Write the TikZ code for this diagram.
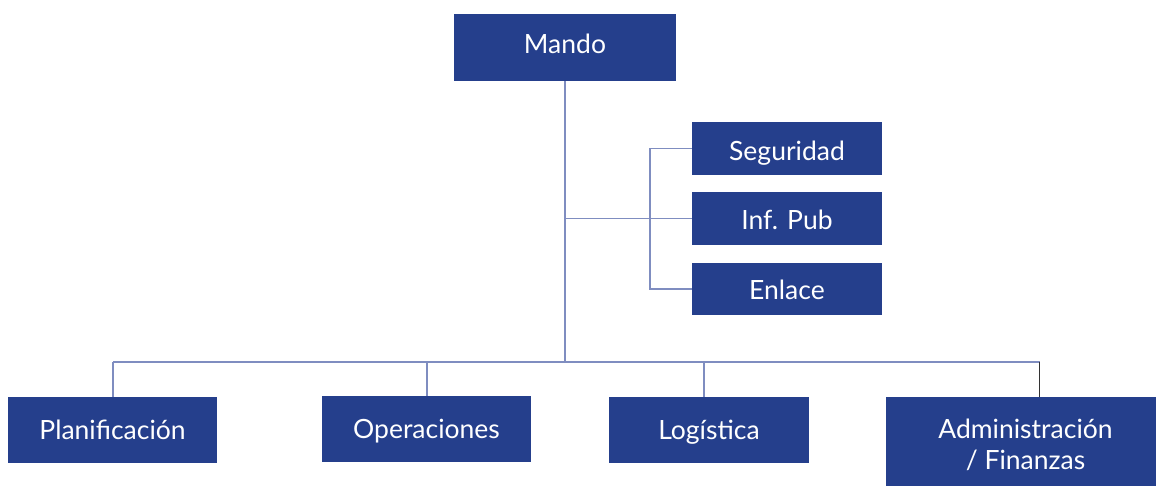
\documentclass[tikz,border=0pt]{standalone}
\usepackage{fontspec}
\setmainfont{Lato}
\definecolor{boxblue}{HTML}{253F8C}
\definecolor{linkblue}{HTML}{7F8DC0}
\definecolor{darkline}{HTML}{333333}
\begin{document}
\begin{tikzpicture}[x=1pt,y=-1pt,
  orgbox/.style={fill=boxblue, draw=none, text=white, inner sep=0pt,
    font=\fontsize{26.5}{31}\selectfont, align=center,
    text height=19pt, text depth=0pt},
  link/.style={draw=linkblue, line width=1.3pt}]
\useasboundingbox (0,0) rectangle (1156,485);
\node[orgbox, minimum width=222pt, minimum height=67pt, text depth=8pt] (mando) at (565,47.5) {Mando};
\node[orgbox, minimum width=190pt, minimum height=53pt, text height=23pt] (seg) at (787,148.5) {Seguridad};
\node[orgbox, minimum width=190pt, minimum height=53pt, text height=22pt] (inf) at (787,218.5) {Inf. Pub};
\node[orgbox, minimum width=190pt, minimum height=52pt, text height=21pt] (enl) at (787,289) {Enlace};
\node[orgbox, minimum width=209pt, minimum height=65.5pt] (plan) at (112.5,429.75) {Planificación};
\node[orgbox, minimum width=209pt, minimum height=66pt] (oper) at (426.5,429) {Operaciones};
\node[orgbox, minimum width=200pt, minimum height=65.5pt] (log) at (709,429.75) {Logística};
\node[orgbox, minimum width=279pt, minimum height=94pt, text height=50pt] (adm) at (1025.5,444) {Administración\\/ Finanzas};
\coordinate (busL) at (113,362);
\coordinate (busR) at (1040,362);
\coordinate (bracket) at (650,0);
\coordinate (opertop) at (427,396);
\coordinate (logtop) at (704,397);
\coordinate (admtop) at (1039.5,397);
\draw[link] (mando.south) -- (mando.south |- busL);
\draw[link] (mando.south |- inf.west) -- (inf.west);
\draw[link] (seg.west) -- (seg.west -| bracket) -- (enl.west -| bracket) -- (enl.west);
\draw[link] (busL) -- (busR);
\draw[link] (busL) -- (busL |- plan.north);
\draw[link] (opertop) -- (opertop |- busL);
\draw[link] (logtop) -- (logtop |- busL);
\draw[draw=darkline, line width=1.3pt] (admtop) -- (admtop |- busL);
\end{tikzpicture}
\end{document}
